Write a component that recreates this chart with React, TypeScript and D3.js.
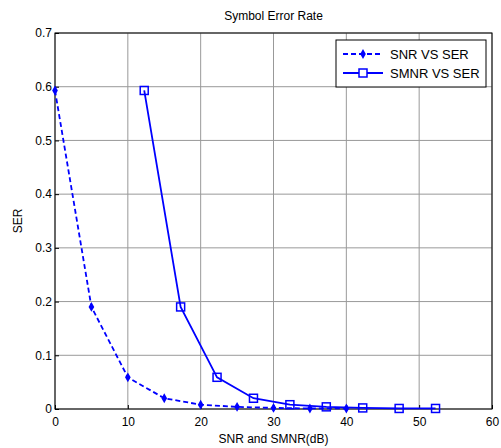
import React, { useRef, useEffect } from "react";
import * as d3 from "d3";

const snrX = [0, 5, 10, 15, 20, 25, 30, 35, 40];
const snrSer = [0.593, 0.19, 0.059, 0.02, 0.008, 0.004, 0.002, 0.001, 0.001];
const smnrX = [12.25, 17.25, 22.25, 27.25, 32.25, 37.25, 42.25, 47.25, 52.25];
const smnrSer = [0.593, 0.19, 0.059, 0.02, 0.008, 0.004, 0.002, 0.001, 0.001];
const xTicks = [0, 10, 20, 30, 40, 50, 60];
const yTicks = [0, 0.1, 0.2, 0.3, 0.4, 0.5, 0.6, 0.7];
const seriesNames = ["SNR VS SER", "SMNR VS SER"];

const App = () => {
  const svgRef = useRef<SVGSVGElement>(null);

  useEffect(() => {
    const svg = d3.select(svgRef.current);
    svg.selectAll("*").remove();

    const width = 501;
    const height = 448;
    const margin = { top: 33, right: 9, bottom: 39, left: 55 };
    const font = "'Liberation Sans', Arial, sans-serif";
    const fs = 12;
    const blue = "#0000ff";

    svg.append("rect").attr("width", width).attr("height", height).attr("fill", "#fff");

    const x = d3.scaleLinear().domain([0, 60]).range([margin.left, width - margin.right]);
    const y = d3.scaleLinear().domain([0, 0.7]).range([height - margin.bottom, margin.top]);

    // grid
    const grid = svg.append("g").attr("stroke", "#999").attr("stroke-width", 1);
    xTicks.forEach(t => {
      grid.append("line").attr("x1", x(t)).attr("x2", x(t))
        .attr("y1", y(0)).attr("y2", y(0.7));
    });
    yTicks.forEach(t => {
      grid.append("line").attr("x1", x(0)).attr("x2", x(60))
        .attr("y1", y(t)).attr("y2", y(t));
    });

    // box
    svg.append("rect")
      .attr("x", x(0)).attr("y", y(0.7))
      .attr("width", x(60) - x(0)).attr("height", y(0) - y(0.7))
      .attr("fill", "none").attr("stroke", "#000").attr("stroke-width", 1);

    // axes
    const xAxis = svg.append("g")
      .attr("transform", `translate(0,${y(0)})`)
      .call(d3.axisBottom(x).tickValues(xTicks).tickSize(-4).tickPadding(8).tickFormat(d3.format("d")));
    const yAxis = svg.append("g")
      .attr("transform", `translate(${x(0)},0)`)
      .call(d3.axisLeft(y).tickValues(yTicks).tickSize(-4).tickPadding(3).tickFormat(d => d === 0 ? "0" : d3.format(".1f")(d as number)));
    [xAxis, yAxis].forEach(a => {
      a.select(".domain").remove();
      a.selectAll("text").attr("font-family", font).attr("font-size", fs).attr("fill", "#000");
      a.selectAll("line").attr("stroke", "#000");
    });

    const line = d3.line<[number, number]>().x(d => x(d[0])).y(d => y(d[1]));
    const snrData = snrX.map((v, i) => [v, snrSer[i]] as [number, number]);
    const smnrData = smnrX.map((v, i) => [v, smnrSer[i]] as [number, number]);

    const diamond = d3.symbol().type(d3.symbolDiamond).size(28);

    svg.append("path").datum(snrData).attr("d", line)
      .attr("fill", "none").attr("stroke", blue).attr("stroke-width", 1.8)
      .attr("stroke-dasharray", "5,3");
    svg.selectAll(".snr-pt").data(snrData).enter().append("path")
      .attr("class", "snr-pt")
      .attr("transform", d => `translate(${x(d[0])},${y(d[1])})`)
      .attr("d", diamond).attr("fill", blue);

    svg.append("path").datum(smnrData).attr("d", line)
      .attr("fill", "none").attr("stroke", blue).attr("stroke-width", 1.8);
    svg.selectAll(".smnr-pt").data(smnrData).enter().append("rect")
      .attr("class", "smnr-pt")
      .attr("x", d => x(d[0]) - 4).attr("y", d => y(d[1]) - 4)
      .attr("width", 8).attr("height", 8)
      .attr("fill", "none").attr("stroke", blue).attr("stroke-width", 1.5);

    // title and labels
    svg.append("text").attr("x", (x(0) + x(60)) / 2).attr("y", 20)
      .attr("text-anchor", "middle").attr("font-family", font).attr("font-size", fs)
      .text("Symbol Error Rate");
    svg.append("text").attr("x", (x(0) + x(60)) / 2).attr("y", 443)
      .attr("text-anchor", "middle").attr("font-family", font).attr("font-size", fs)
      .text("SNR and SMNR(dB)");
    svg.append("text")
      .attr("transform", `translate(22,${(y(0) + y(0.7)) / 2})rotate(-90)`)
      .attr("text-anchor", "middle").attr("font-family", font).attr("font-size", fs)
      .text("SER");

    // legend
    const lg = svg.append("g").attr("transform", "translate(336,40)");
    lg.append("rect").attr("width", 150).attr("height", 47)
      .attr("fill", "#fff").attr("stroke", "#000").attr("stroke-width", 1);
    seriesNames.forEach((name, i) => {
      const ly = 14 + i * 19;
      lg.append("line").attr("x1", 7).attr("x2", 47).attr("y1", ly).attr("y2", ly)
        .attr("stroke", blue).attr("stroke-width", 1.8)
        .attr("stroke-dasharray", i === 0 ? "5,3" : null);
      if (i === 0) {
        lg.append("path").attr("transform", `translate(27,${ly})`).attr("d", diamond).attr("fill", blue);
      } else {
        lg.append("rect").attr("x", 23).attr("y", ly - 4).attr("width", 8).attr("height", 8)
          .attr("fill", "#fff").attr("stroke", blue).attr("stroke-width", 1.5);
      }
      lg.append("text").attr("x", 54).attr("y", ly + 5)
        .attr("font-family", font).attr("font-size", 13).text(name);
    });
  }, []);

  return <svg ref={svgRef} width={501} height={448} style={{ position: "absolute", left: 0, top: 0 }} />;
};

export default App;
